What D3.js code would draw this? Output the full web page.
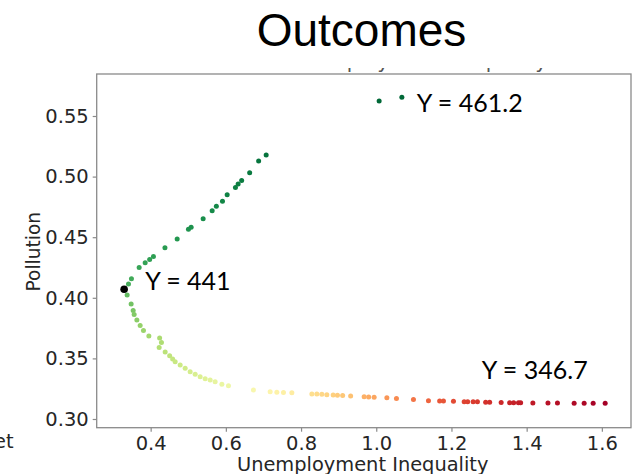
<!DOCTYPE html>
<html><head><meta charset="utf-8">
<script src="https://cdn.jsdelivr.net/npm/d3@7/dist/d3.min.js"></script>
<style>
html,body{margin:0;padding:0;background:#fff;}
svg{display:block;}
</style>
</head><body>
<svg id="chart" width="632" height="474"></svg>
<script>
// ---- data ----
const title = "Outcomes";
const xLabel = "Unemployment Inequality";
const yLabel = "Pollution";
const xTicks = [0.4, 0.6, 0.8, 1.0, 1.2, 1.4, 1.6];
const yTicks = [0.30, 0.35, 0.40, 0.45, 0.50, 0.55];

// unemployment inequality (x) of each outcome
const ineq = [
  1.0077, 1.0681,
  0.7072, 0.6872, 0.6633, 0.6420, 0.6327, 0.6255, 0.6035, 0.5910, 0.5747, 0.5636,
  0.5396, 0.5077, 0.5005, 0.4705, 0.4380, 0.4074, 0.3973, 0.3854, 0.3694, 0.3489, 0.3410,
  0.3375, 0.3481, 0.3535, 0.3561, 0.3633, 0.3721, 0.3809, 0.3952, 0.4239, 0.4287,
  0.4226, 0.4386, 0.4505, 0.4585, 0.4652, 0.4785, 0.4918, 0.5050, 0.5184, 0.5316,
  0.5450, 0.5583, 0.5715, 0.5894, 0.6069, 0.6734, 0.7178, 0.7356, 0.7532, 0.7755,
  0.8287, 0.8420, 0.8553, 0.8686, 0.8854, 0.8968, 0.9106, 0.9319, 0.9678, 0.9798,
  0.9944, 1.0282, 1.0537, 1.0989, 1.1388, 1.1686, 1.1787, 1.2053, 1.2338, 1.2431,
  1.2577, 1.2691, 1.2910, 1.3016, 1.3322, 1.3548, 1.3654, 1.3782, 1.3840, 1.4165,
  1.4566, 1.4819, 1.5263, 1.5529, 1.5769, 1.6088
];
// pollution (y) of each outcome
const pollution = [
  0.5624, 0.5654,
  0.5178, 0.5129, 0.5032, 0.4968, 0.4939, 0.4910, 0.4851, 0.4796, 0.4756, 0.4718,
  0.4653, 0.4582, 0.4566, 0.4485, 0.4413, 0.4341, 0.4316, 0.4290, 0.4250, 0.4157, 0.4114,
  0.4023, 0.3949, 0.3895, 0.3862, 0.3817, 0.3771, 0.3730, 0.3685, 0.3668, 0.3631,
  0.3590, 0.3553, 0.3522, 0.3495, 0.3473, 0.3446, 0.3418, 0.3390, 0.3369, 0.3349,
  0.3333, 0.3322, 0.3308, 0.3286, 0.3275, 0.3239, 0.3224, 0.3221, 0.3219, 0.3216,
  0.3206, 0.3206, 0.3204, 0.3201, 0.3198, 0.3196, 0.3193, 0.3190, 0.3183, 0.3182,
  0.3179, 0.3175, 0.3169, 0.3160, 0.3151, 0.3149, 0.3149, 0.3147, 0.3143, 0.3143,
  0.3143, 0.3143, 0.3139, 0.3139, 0.3136, 0.3135, 0.3135, 0.3134, 0.3134, 0.3133,
  0.3132, 0.3131, 0.3130, 0.3130, 0.3130, 0.3130
];
// outcome value Y (drives colour)
const outcomeY = [
  461.2, 461.2,
  458.5, 458, 457, 456.5, 456, 455.5, 455, 454, 453.5, 453,
  452, 451, 450.5, 449.5, 448.5, 447.5, 447, 446.5, 445.5, 444, 443,
  438.5, 436, 434.5, 433, 431.5, 430, 428.5, 427, 425.5, 424.5,
  423.5, 422, 421, 420, 419, 418, 417, 416, 415, 414,
  413, 412, 411, 410, 408.5, 404, 401, 400, 399, 397.5,
  393, 392, 391, 390, 389, 388, 387, 385.5, 382, 381,
  380, 377, 375, 371, 368, 365.5, 365, 363, 361.5, 361,
  360, 359.5, 358, 357.5, 356, 355, 354.5, 354, 353.5, 352.5,
  351, 350.5, 349, 348.5, 347.5, 346.7
];
// highlighted optimum
const bestIneq = [0.3295];
const bestPollution = [0.4070];

// annotations
const annIneq = [1.0681, 0.3295, 1.6088];
const annPollution = [0.5654, 0.4070, 0.3130];
const annText = ["Y = 461.2", "Y = 441", "Y = 346.7"];

// ---- layout ----
const svg = d3.select("#chart");
const plot = {left: 96.7, right: 631, top: 74, bottom: 427.7};
const x = d3.scaleLinear().domain([0.2565, 1.6775]).range([plot.left, plot.right]);
const y = d3.scaleLinear().domain([0.29282, 0.58465]).range([plot.bottom, plot.top]);
const Ymin = d3.min(outcomeY), Ymax = d3.max(outcomeY);
const color = v => d3.interpolateRdYlGn((v - Ymin) / (Ymax - Ymin));

const tickFont = "'DejaVu Sans', sans-serif";
const txtColor = "#262626";
const spineColor = "#8a8a8a";

// cut-off upper title (only descenders visible)
svg.append("clipPath").attr("id", "topclip")
  .append("rect").attr("x", 0).attr("y", 68).attr("width", 632).attr("height", 5.5);
svg.append("text")
  .attr("clip-path", "url(#topclip)")
  .attr("x", (plot.left + plot.right) / 2 - 10).attr("y", 67.5)
  .attr("text-anchor", "middle")
  .style("font-family", tickFont).style("font-size", "20px").style("fill", "#555")
  .text("Pollution vs. Unemployment Inequality");

// title
svg.append("text")
  .attr("x", 361.5).attr("y", 46)
  .attr("text-anchor", "middle")
  .style("font-family", "'Liberation Sans', Arial, sans-serif")
  .style("font-size", "46px").style("fill", "#000")
  .text(title);

// axes
const xAxis = d3.axisBottom(x).tickValues(xTicks).tickFormat(d3.format(".1f")).tickSize(4).tickPadding(4);
const yAxis = d3.axisLeft(y).tickValues(yTicks).tickFormat(d3.format(".2f")).tickSize(4).tickPadding(4);

const gx = svg.append("g").attr("transform", `translate(0,${plot.bottom})`).call(xAxis);
const gy = svg.append("g").attr("transform", `translate(${plot.left},0)`).call(yAxis);
[gx, gy].forEach(g => {
  g.select(".domain").remove();
  g.selectAll(".tick line").attr("stroke", spineColor).attr("stroke-width", 1.2);
  g.selectAll(".tick text").style("font-family", tickFont).style("font-size", "19.5px").attr("fill", txtColor);
});

// frame
svg.append("rect")
  .attr("x", plot.left).attr("y", plot.top)
  .attr("width", plot.right - plot.left).attr("height", plot.bottom - plot.top)
  .attr("fill", "none").attr("stroke", spineColor).attr("stroke-width", 1.3);

// axis labels
svg.append("text")
  .attr("x", 362.7).attr("y", 471)
  .attr("text-anchor", "middle")
  .style("font-family", tickFont).style("font-size", "19.4px").style("fill", txtColor)
  .text(xLabel);
svg.append("text")
  .attr("transform", `translate(40,251.7) rotate(-90)`)
  .attr("text-anchor", "middle")
  .style("font-family", tickFont).style("font-size", "18.6px").style("fill", txtColor)
  .text(yLabel);

// cut-off left label
svg.append("text")
  .attr("x", 13.5).attr("y", 448)
  .attr("text-anchor", "end")
  .style("font-family", tickFont).style("font-size", "19.4px").style("fill", txtColor)
  .text("Budget");

// points
const pts = ineq.map((v, i) => ({x: v, p: pollution[i], Y: outcomeY[i]}));
svg.append("g").selectAll("circle").data(pts).join("circle")
  .attr("cx", d => x(d.x)).attr("cy", d => y(d.p))
  .attr("r", 2.5)
  .attr("fill", d => color(d.Y))
  .attr("fill-opacity", 1);

svg.append("g").selectAll("circle").data(bestIneq.map((v, i) => ({x: v, p: bestPollution[i]}))).join("circle")
  .attr("cx", d => x(d.x)).attr("cy", d => y(d.p))
  .attr("r", 3.8).attr("fill", "#000");

// annotations
const annOffsets = [[15, 14.4], [21, 1], [-123.3, -23.9]];
svg.append("g").selectAll("text").data(annText).join("text")
  .attr("x", (d, i) => x(annIneq[i]) + annOffsets[i][0])
  .attr("y", (d, i) => y(annPollution[i]) + annOffsets[i][1])
  .style("font-family", "Lato, 'Open Sans', sans-serif")
  .style("font-size", "25px").style("fill", "#000")
  .text(d => d);
</script>
</body></html>
